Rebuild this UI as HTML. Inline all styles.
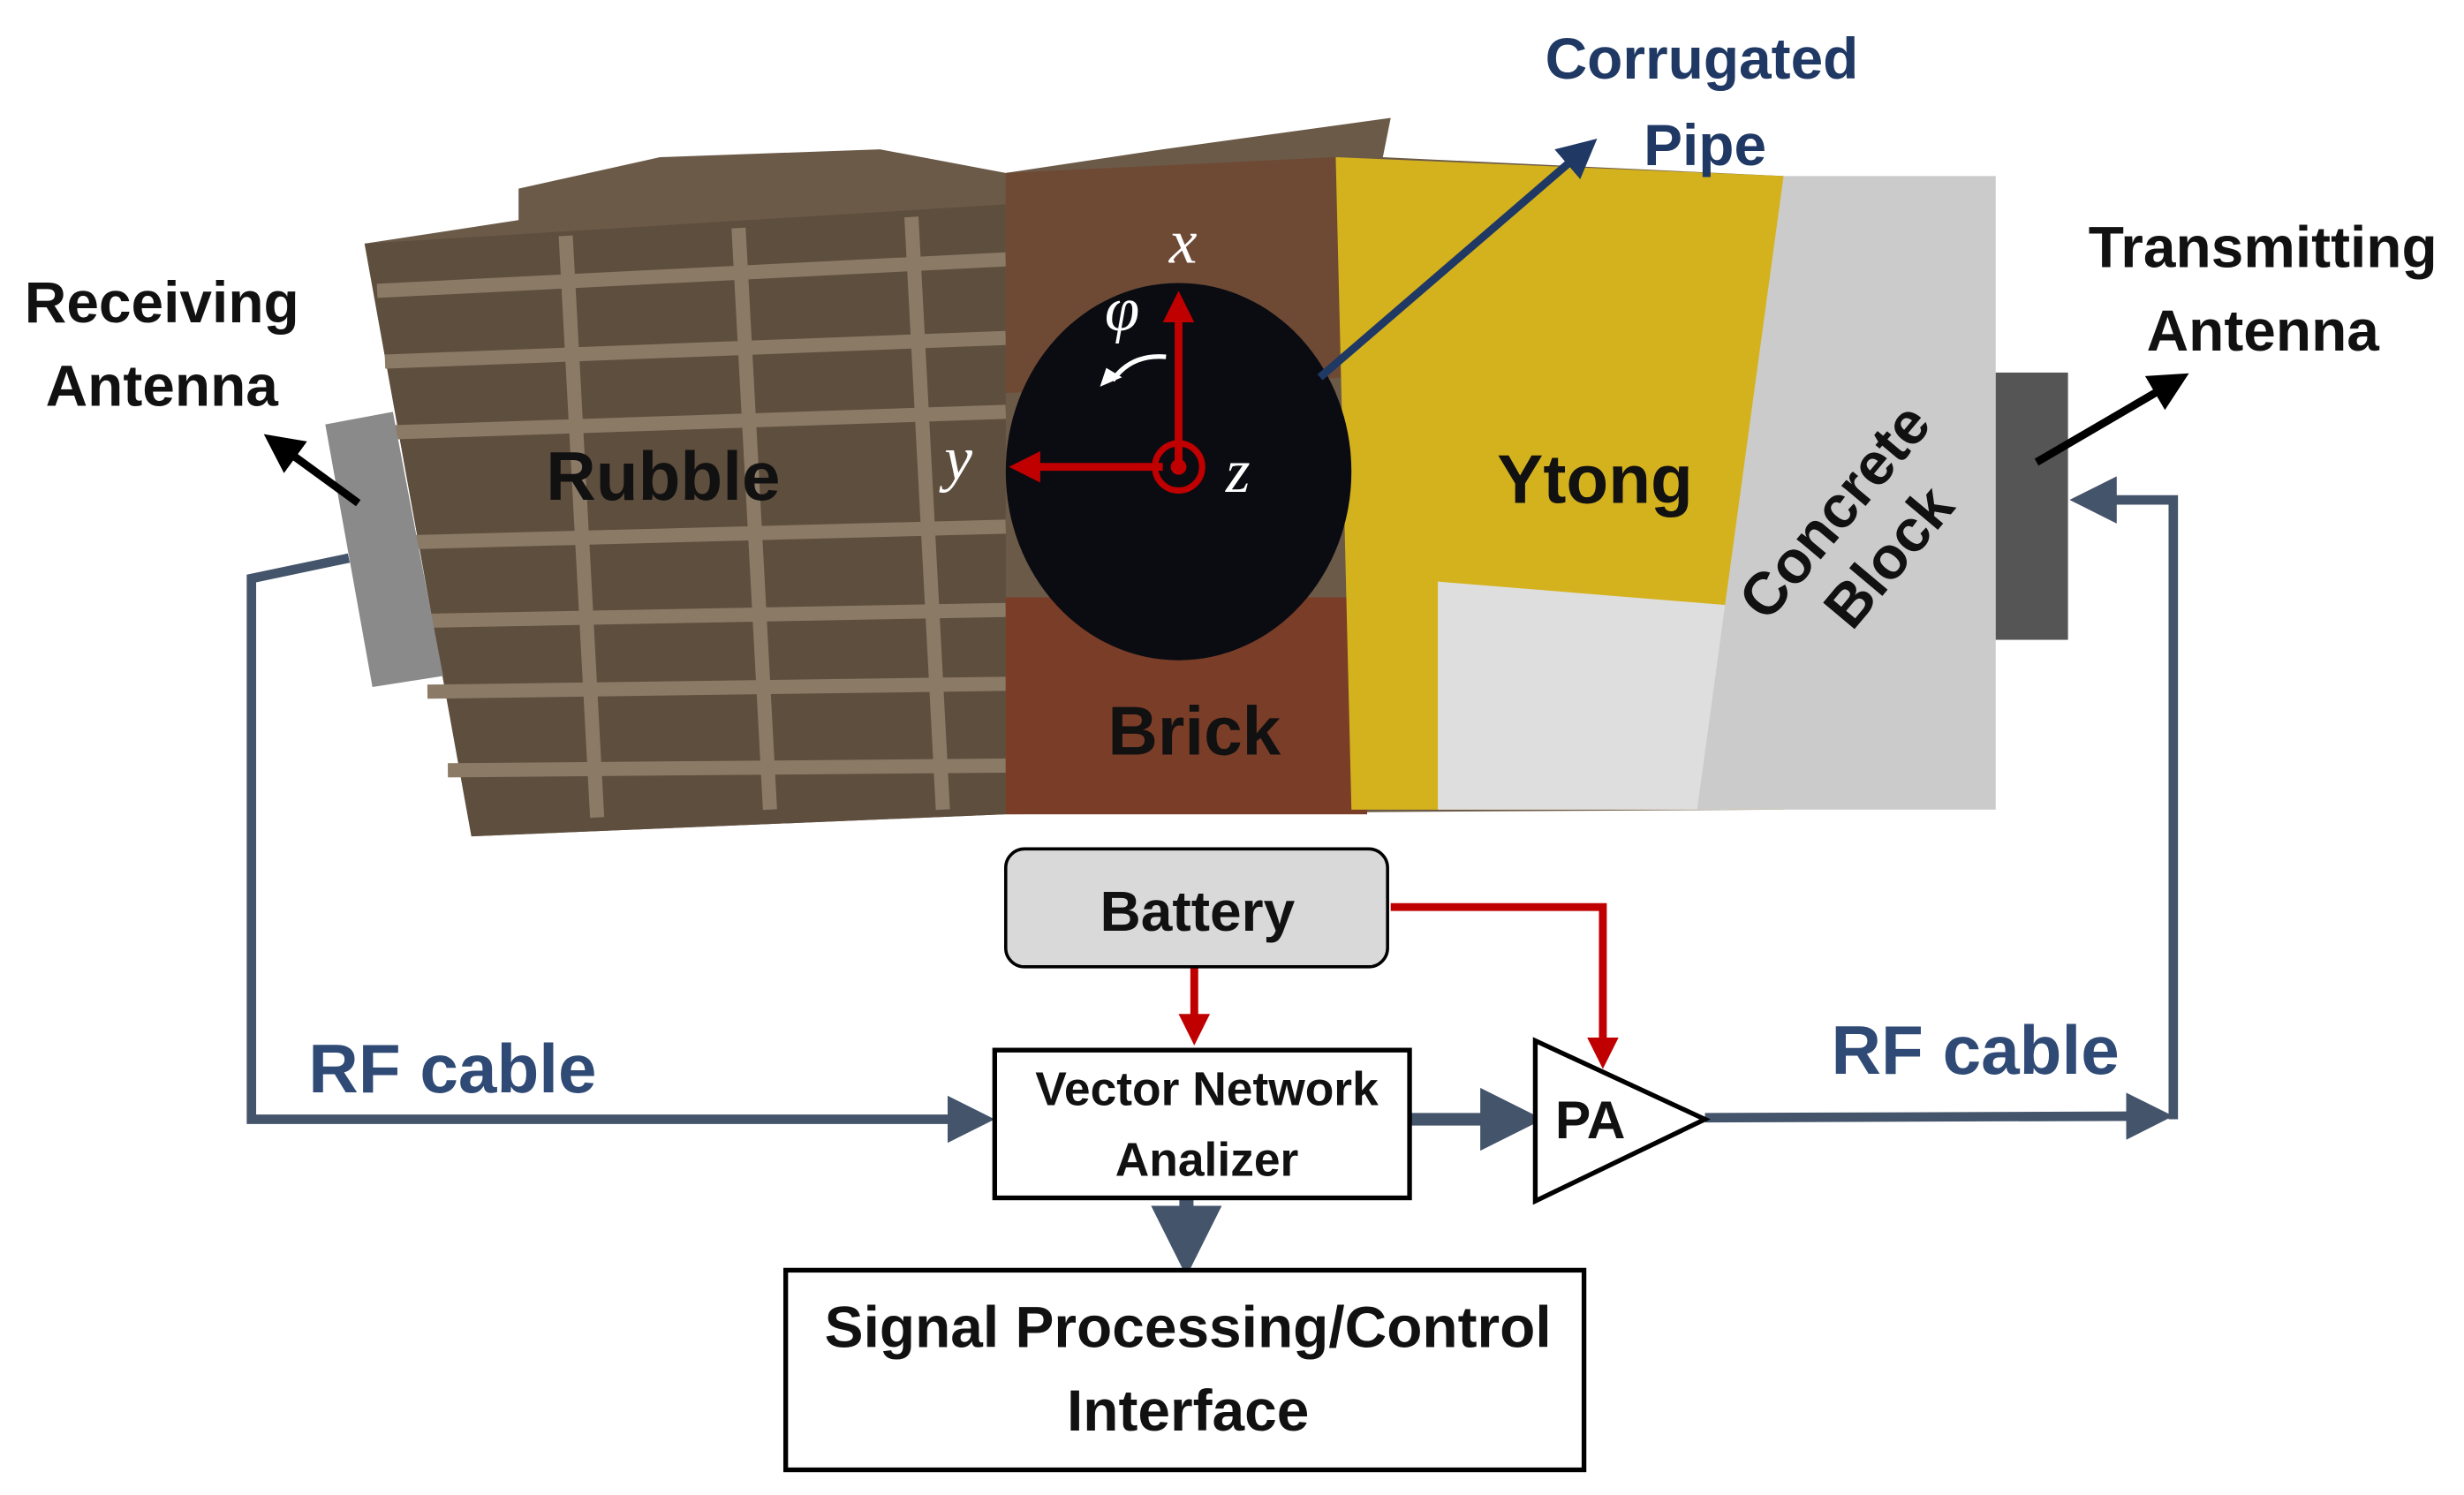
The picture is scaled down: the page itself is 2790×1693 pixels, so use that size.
<!DOCTYPE html>
<html><head><style>html,body{margin:0;padding:0;background:#fff}svg{display:block}
text{font-family:"Liberation Sans",sans-serif;font-weight:bold}</style></head>
<body>
<svg width="2790" height="1693" viewBox="0 0 1568 951" preserveAspectRatio="none" xmlns="http://www.w3.org/2000/svg">
<defs>
<marker id="bh" markerWidth="5" markerHeight="5" refX="2" refY="2.5" orient="auto" markerUnits="strokeWidth"><path d="M0,0 L5,2.5 L0,5 z" fill="#44546a"/></marker>
<marker id="rh" markerWidth="4" markerHeight="4" refX="2" refY="2" orient="auto" markerUnits="strokeWidth"><path d="M0,0 L4,2 L0,4 z" fill="#c00000"/></marker>
<marker id="kh" markerWidth="5" markerHeight="5" refX="2" refY="2.5" orient="auto" markerUnits="strokeWidth"><path d="M0,0 L5,2.5 L0,5 z" fill="#000"/></marker>
<marker id="nh" markerWidth="5" markerHeight="5" refX="2" refY="2.5" orient="auto" markerUnits="strokeWidth"><path d="M0,0 L5,2.5 L0,5 z" fill="#1f3864"/></marker>
</defs>
<polygon points="330,120 420,100 560,95 640,110 740,95 885,75 880,100 1135,112 1135,515 640,518 300,532 232,155 330,140" fill="#6b5a48"/>
<polygon points="232,155 640,130 640,518 300,532" fill="#5e4e3d"/>
<g stroke="#8a7a66" stroke-width="9">
<line x1="240" y1="185" x2="640" y2="165"/><line x1="245" y1="230" x2="640" y2="215"/>
<line x1="250" y1="275" x2="640" y2="262"/><line x1="258" y1="345" x2="640" y2="335"/>
<line x1="265" y1="395" x2="640" y2="388"/><line x1="272" y1="440" x2="640" y2="435"/>
<line x1="285" y1="490" x2="640" y2="487"/>
<line x1="360" y1="150" x2="380" y2="520"/><line x1="470" y1="145" x2="490" y2="515"/><line x1="580" y1="138" x2="600" y2="515"/>
</g>
<polygon points="640,110 850,100 860,240 640,250" fill="#6e4a35"/>
<rect x="640" y="380" width="230" height="138" fill="#7a3d28"/>
<polygon points="850,100 1135,112 1135,515 860,515" fill="#d4b21e"/>
<polygon points="915,370 1100,385 1100,515 915,515" fill="#dedede"/>
<ellipse cx="750" cy="300" rx="110" ry="120" fill="#0a0c12"/>
<polygon points="1135,112 1270,112 1270,515 1080,515" fill="#cbcbcb"/>
<rect x="1270" y="237" width="46" height="170" fill="#555"/>
<polygon points="207,270 250,262 282,430 237,437" fill="#8a8a8a"/>
<text x="422" y="318" font-size="44" text-anchor="middle" fill="#111">Rubble</text>
<text x="1015" y="320" font-size="44" text-anchor="middle" fill="#111">Ytong</text>
<text x="760" y="480" font-size="44" text-anchor="middle" fill="#111">Brick</text>
<g transform="translate(1185,340) rotate(-50)"><text x="0" y="-10" font-size="38" text-anchor="middle" fill="#111">Concrete</text><text x="0" y="35" font-size="38" text-anchor="middle" fill="#111">Block</text></g>
<line x1="750" y1="297" x2="750" y2="195" stroke="#c00000" stroke-width="5" marker-end="url(#rh)"/>
<line x1="740" y1="297" x2="652" y2="297" stroke="#c00000" stroke-width="5" marker-end="url(#rh)"/>
<circle cx="750" cy="297" r="15" fill="none" stroke="#c00000" stroke-width="4"/><circle cx="750" cy="297" r="5" fill="#c00000"/>
<path d="M742,227 Q720,225 708,242" stroke="#fff" stroke-width="3" fill="none"/>
<path d="M700,246 L704,234 L714,240 z" fill="#fff"/>
<g fill="#fff" font-size="40">
<text x="744" y="167" style="font-family:'Liberation Serif',serif;font-style:italic;font-weight:normal">x</text>
<text x="601" y="305" style="font-family:'Liberation Serif',serif;font-style:italic;font-weight:normal">y</text>
<text x="780" y="313" style="font-family:'Liberation Serif',serif;font-style:italic;font-weight:normal">z</text>
<text x="703" y="210" style="font-family:'Liberation Serif',serif;font-style:italic;font-weight:normal">φ</text></g>
<line x1="840" y1="240" x2="1005" y2="98" stroke="#1f3864" stroke-width="5" marker-end="url(#nh)"/>
<line x1="228" y1="320" x2="180" y2="285" stroke="#000" stroke-width="5" marker-end="url(#kh)"/>
<line x1="1296" y1="294" x2="1380" y2="245" stroke="#000" stroke-width="5" marker-end="url(#kh)"/>
<text x="1083" y="50" font-size="37" text-anchor="middle" fill="#1f3864">Corrugated</text>
<text x="1085" y="105" font-size="37" text-anchor="middle" fill="#1f3864">Pipe</text>
<text x="103" y="205" font-size="37" text-anchor="middle" fill="#111">Receiving</text>
<text x="103" y="258" font-size="37" text-anchor="middle" fill="#111">Antenna</text>
<text x="1440" y="170" font-size="37" text-anchor="middle" fill="#111">Transmitting</text>
<text x="1440" y="223" font-size="37" text-anchor="middle" fill="#111">Antenna</text>
<polyline points="222,355 160,368 160,712 615,712" fill="none" stroke="#44546a" stroke-width="6" marker-end="url(#bh)"/>
<line x1="1085" y1="711" x2="1365" y2="710" stroke="#44546a" stroke-width="6" marker-end="url(#bh)"/>
<polyline points="1383,712 1383,318 1335,318" fill="none" stroke="#44546a" stroke-width="6" marker-end="url(#bh)"/>
<line x1="897" y1="712" x2="958" y2="712" stroke="#44546a" stroke-width="8" marker-end="url(#bh)"/>
<line x1="755" y1="762" x2="755" y2="785" stroke="#44546a" stroke-width="9" marker-end="url(#bh)"/>
<line x1="760" y1="615" x2="760" y2="655" stroke="#c00000" stroke-width="5" marker-end="url(#rh)"/>
<polyline points="885,577 1020,577 1020,670" fill="none" stroke="#c00000" stroke-width="5" marker-end="url(#rh)"/>
<text x="288" y="695" font-size="44" text-anchor="middle" fill="#2f4a75">RF cable</text>
<text x="1257" y="683" font-size="44" text-anchor="middle" fill="#2f4a75">RF cable</text>
<rect x="640" y="540" width="243" height="75" rx="12" fill="#d9d9d9" stroke="#000" stroke-width="2"/>
<text x="762" y="592" font-size="36" text-anchor="middle" fill="#111">Battery</text>
<rect x="633" y="668" width="264" height="94" fill="#fff" stroke="#000" stroke-width="3"/>
<text x="768" y="703" font-size="30" text-anchor="middle" fill="#111">Vector Network</text>
<text x="768" y="748" font-size="30" text-anchor="middle" fill="#111">Analizer</text>
<polygon points="977,662 977,764 1085,712" fill="#fff" stroke="#000" stroke-width="3"/>
<text x="1012" y="724" font-size="34" text-anchor="middle" fill="#111">PA</text>
<rect x="500" y="808" width="508" height="127" fill="#fff" stroke="#000" stroke-width="3"/>
<text x="756" y="857" font-size="37" text-anchor="middle" fill="#111">Signal Processing/Control</text>
<text x="756" y="910" font-size="37" text-anchor="middle" fill="#111">Interface</text>
</svg>
</body></html>
